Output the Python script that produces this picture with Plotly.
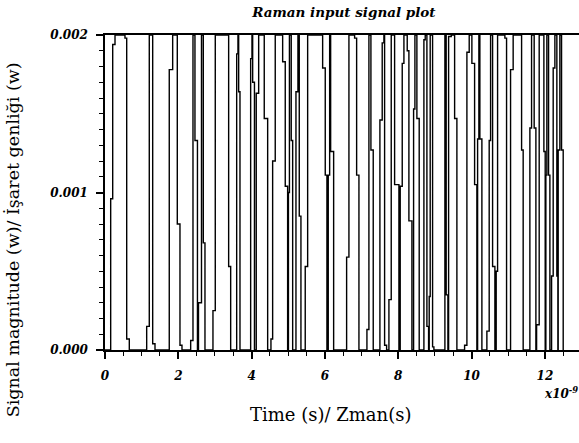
import plotly.graph_objects as go

# Sample-and-hold signal: time (ns) at which the level changes, and the new level (mW)
time_ns = [
    0.000,
    0.155, 0.210, 0.273, 0.545, 0.592, 0.663,
    1.137, 1.208, 1.301, 1.364,
    1.753, 1.846, 1.972, 2.045, 2.100,
    2.337, 2.400, 2.454, 2.522,
    2.550, 2.632, 2.681, 2.727,
    2.945, 3.008, 3.373, 3.428,
    3.592, 3.627, 3.646, 3.682,
    3.973, 4.009, 4.028, 4.077,
    4.126, 4.192, 4.344, 4.437,
    4.527, 4.573, 4.644, 4.846, 4.917, 4.982,
    5.004, 5.031, 5.080, 5.119,
    5.209, 5.263, 5.299, 5.345,
    5.462, 5.528, 5.937, 6.008, 6.054,
    6.090, 6.128, 6.155, 6.237,
    6.591, 6.654, 6.809, 6.864, 6.927,
    7.145, 7.199, 7.254, 7.317,
    7.499, 7.562, 7.608, 7.627, 7.682,
    7.745, 7.808, 7.900, 8.018,
    8.053, 8.108, 8.154, 8.244, 8.290, 8.372,
    8.418, 8.454, 8.508, 8.571,
    8.699, 8.735, 8.781, 8.827,
    8.844, 8.871, 8.936, 8.972,
    9.272, 9.307, 9.354,
    9.373, 9.444, 9.537, 9.599,
    9.809, 9.872, 9.935, 10.008, 10.082, 10.144,
    10.164, 10.199, 10.226, 10.281,
    10.417, 10.480, 10.518, 10.573, 10.636,
    10.671, 10.709, 10.908, 10.954,
    11.063, 11.134, 11.364, 11.407,
    11.590, 11.636, 11.707, 11.754,
    11.773, 11.844, 11.972, 12.008,
    12.026, 12.053, 12.100, 12.136,
    12.182, 12.226, 12.272, 12.326, 12.354,
    12.362, 12.408, 12.454, 12.499,
]
level_mw = [
    0.00,
    0.96, 1.94, 2.00, 1.98, 0.07, 0.00,
    0.15, 2.00, 0.04, 0.00,
    1.78, 2.00, 0.80, 0.03, 0.00,
    0.06, 2.00, 1.33, 0.00,
    0.30, 2.00, 0.68, 0.00,
    0.25, 2.00, 0.53, 0.00,
    1.88, 2.00, 1.64, 0.00,
    1.85, 2.00, 1.70, 0.00,
    1.63, 2.00, 1.47, 0.00,
    0.07, 1.20, 2.00, 1.83, 1.04, 0.00,
    1.00, 2.00, 1.33, 0.00,
    1.64, 2.00, 0.85, 0.00,
    0.53, 2.00, 1.79, 1.11, 0.00,
    1.11, 2.00, 1.26, 0.00,
    0.59, 2.00, 1.98, 1.11, 0.00,
    0.13, 2.00, 1.27, 0.00,
    1.46, 1.95, 2.00, 0.03, 0.00,
    0.32, 2.00, 1.05, 0.00,
    1.04, 1.82, 2.00, 1.90, 0.82, 0.00,
    1.53, 2.00, 1.47, 0.00,
    1.97, 2.00, 0.15, 0.00,
    0.34, 2.00, 0.02, 0.00,
    2.00, 0.35, 0.00,
    1.99, 2.00, 1.47, 0.00,
    0.03, 1.89, 2.00, 1.82, 1.05, 0.00,
    1.34, 2.00, 1.34, 0.00,
    0.12, 1.33, 2.00, 0.53, 0.00,
    0.50, 2.00, 1.98, 0.00,
    1.78, 2.00, 1.27, 0.00,
    1.41, 2.00, 1.41, 0.00,
    0.16, 2.00, 1.26, 0.00,
    1.11, 2.00, 1.11, 0.00,
    0.47, 1.79, 2.00, 0.47, 0.00,
    1.27, 2.00, 1.27, 0.00,
]

x_ticks = [0, 2, 4, 6, 8, 10, 12]
x_ticktext = ["0", "2", "4", "6", "8", "10", "12"]
y_ticks = [0.0, 0.001, 0.002]
y_ticktext = ["0.000", "0.001", "0.002"]

title_text = "Raman input signal plot"
x_title = "Time (s)/ Zman(s)"
y_title = "Signal magnitude (w)/ İşaret genliği (w)"

signal_w = [v / 1000.0 for v in level_mw]

fig = go.Figure()
fig.add_trace(go.Scatter(
    x=time_ns, y=signal_w, mode="lines", line_shape="hv",
    line=dict(color="black", width=1.4), showlegend=False, hoverinfo="skip",
))

tick_font = dict(family="DejaVu Serif", size=12, color="black", weight="bold", style="italic")

fig.update_layout(
    width=579, height=443,
    margin=dict(l=105, r=0, t=35, b=93),
    paper_bgcolor="white", plot_bgcolor="white",
    title=dict(text=title_text, x=0.594, xref="container", xanchor="center",
               y=0.972, yref="container", yanchor="middle",
               font=dict(family="DejaVu Serif", size=13.5, color="black", weight="bold", style="italic")),
    xaxis=dict(
        range=[0, 12.93], tickvals=x_ticks, ticktext=x_ticktext,
        showgrid=False, zeroline=False, showline=True, linecolor="black", linewidth=1.5,
        mirror=True, ticks="outside", ticklen=7, tickwidth=1.5, tickcolor="black",
        ticklabelstandoff=7, tickfont=tick_font,
        minor=dict(dtick=0.5, tick0=0, ticks="outside", ticklen=4, tickwidth=1.2,
                   tickcolor="black", showgrid=False),
    ),
    yaxis=dict(
        range=[0, 0.002], tickvals=y_ticks, ticktext=y_ticktext,
        showgrid=False, zeroline=False, showline=True, linecolor="black", linewidth=1.5,
        ticks="outside", ticklen=7, tickwidth=1.5, tickcolor="black",
        ticklabelstandoff=6, tickfont=tick_font,
        minor=dict(dtick=0.0001, tick0=0, ticks="outside", ticklen=4, tickwidth=1.2,
                   tickcolor="black", showgrid=False),
    ),
    annotations=[
        dict(text=x_title, xref="paper", yref="paper", x=0.475, y=-0.205,
             xanchor="center", yanchor="middle", showarrow=False,
             font=dict(family="DejaVu Serif", size=18, color="black")),
        dict(text=y_title, xref="paper", yref="paper", x=-0.195, y=0.35,
             xanchor="center", yanchor="middle", showarrow=False, textangle=-90,
             font=dict(family="DejaVu Serif", size=17.5, color="black")),
        dict(text="x10<sup>-9</sup>", xref="paper", yref="paper", x=0.963, y=-0.138,
             xanchor="center", yanchor="middle", showarrow=False,
             font=dict(family="DejaVu Serif", size=12, color="black", weight="bold", style="italic")),
    ],
)

fig.write_html("out.html")
